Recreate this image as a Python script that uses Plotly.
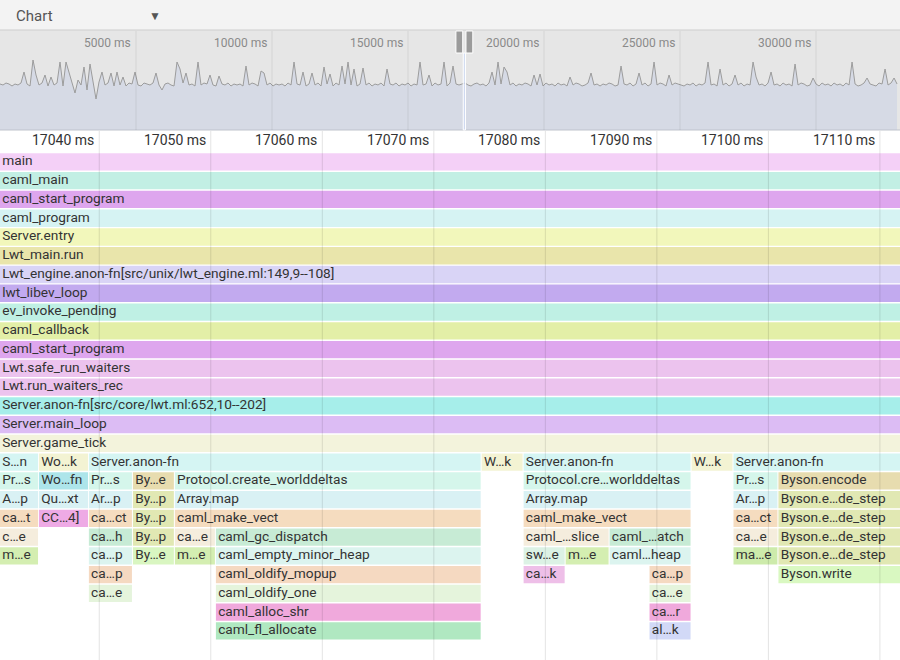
import plotly.graph_objects as go

# ---- overview strip (whole recording, one sample per bucket) ----
overview_step_ms = 110.3
overview_load = [
    46, 45, 47, 46, 44, 46, 45, 47, 58, 46, 44, 70, 55, 45, 47, 55, 44, 53, 45, 47,
    68, 44, 68, 58, 46, 37, 50, 45, 63, 40, 66, 47, 31, 48, 58, 45, 47, 57, 44, 58,
    45, 53, 44, 47, 46, 58, 45, 44, 47, 46, 45, 47, 57, 45, 40, 46, 47, 45, 44, 68,
    61, 47, 57, 45, 46, 44, 68, 45, 47, 46, 55, 45, 44, 54, 46, 45, 47, 44, 46, 45,
    46, 44, 64, 45, 47, 46, 44, 59, 57, 45, 47, 44, 46, 45, 46, 44, 47, 45, 68, 46,
    45, 58, 44, 46, 57, 45, 47, 44, 63, 46, 56, 44, 47, 45, 64, 46, 68, 45, 61, 44,
    46, 62, 45, 47, 44, 46, 45, 47, 44, 61, 46, 45, 47, 44, 46, 45, 47, 44, 46, 45,
    68, 45, 46, 55, 44, 47, 45, 46, 68, 44, 47, 64, 46, 45, 46, 47, 45, 44, 46, 47,
    45, 46, 44, 47, 58, 45, 68, 46, 63, 58, 45, 47, 44, 46, 45, 47, 46, 44, 55, 45,
    56, 44, 47, 45, 46, 44, 47, 45, 46, 44, 53, 45, 47, 46, 44, 45, 47, 57, 45, 46,
    44, 46, 45, 47, 46, 44, 45, 64, 46, 45, 47, 44, 46, 57, 45, 47, 44, 46, 68, 45,
    47, 46, 44, 55, 45, 47, 46, 45, 44, 46, 45, 47, 44, 46, 45, 47, 68, 45, 46, 44,
    61, 45, 47, 44, 46, 55, 45, 47, 44, 46, 45, 68, 53, 45, 46, 44, 47, 58, 45, 46,
    44, 47, 45, 46, 44, 66, 45, 47, 46, 44, 45, 52, 46, 44, 47, 45, 46, 44, 47, 45,
    46, 44, 47, 45, 68, 46, 44, 45, 47, 52, 46, 45, 44, 47, 46, 61, 45, 47, 52, 46,
]
overview_ticks = [5000, 10000, 15000, 20000, 25000, 30000, 35000]
overview_range = [0, 33088]

# ---- zoomed window ----
view_start = 17031.1
view_end = 17111.8
ruler_ticks = [17040, 17050, 17060, 17070, 17080, 17090, 17100, 17110]

# ---- flame chart frames ----
frame_depth = (
    list(range(16))
    + [16] * 7 + [17] * 8 + [18] * 8 + [19] * 8
    + [20] * 9 + [21] * 10 + [22] * 5 + [23] * 3 + [24] * 2 + [25] * 2
)
frame_start = (
    [17000.0] * 16
    + [17030.0, 17034.59, 17039.07, 17074.29, 17078.05, 17093.11, 17096.87]
    + [17030.0, 17034.59, 17039.07, 17043.02, 17046.78, 17078.05, 17096.87, 17100.90]
    + [17030.0, 17034.59, 17039.07, 17043.02, 17046.78, 17078.05, 17096.87, 17100.90]
    + [17030.0, 17034.59, 17039.07, 17043.02, 17046.78, 17078.05, 17096.87, 17100.90]
    + [17030.0, 17039.07, 17043.02, 17046.78, 17050.46, 17078.05, 17085.76, 17096.87, 17100.90]
    + [17030.0, 17039.07, 17043.02, 17046.78, 17050.46, 17078.05, 17081.82, 17085.76, 17096.87, 17100.90]
    + [17039.07, 17050.46, 17078.05, 17089.34, 17100.90]
    + [17039.07, 17050.46, 17089.34]
    + [17050.46, 17089.34]
    + [17050.46, 17089.34]
)
frame_end = (
    [17130.0] * 16
    + [17034.51, 17038.99, 17074.20, 17077.96, 17093.02, 17096.78, 17115.0]
    + [17034.51, 17038.99, 17042.93, 17046.69, 17074.20, 17093.02, 17100.81, 17115.0]
    + [17034.51, 17038.99, 17042.93, 17046.69, 17074.20, 17093.02, 17100.81, 17115.0]
    + [17034.51, 17038.99, 17042.93, 17046.69, 17074.20, 17093.02, 17100.81, 17115.0]
    + [17034.51, 17042.93, 17046.69, 17050.37, 17074.20, 17085.67, 17093.02, 17100.81, 17115.0]
    + [17034.51, 17042.93, 17046.69, 17050.37, 17074.20, 17081.73, 17085.67, 17093.02, 17100.81, 17115.0]
    + [17042.93, 17074.20, 17081.73, 17093.02, 17115.0]
    + [17042.93, 17074.20, 17093.02]
    + [17074.20, 17093.02]
    + [17074.20, 17093.02]
)
frame_label = (
    ["main", "caml_main", "caml_start_program", "caml_program", "Server.entry",
     "Lwt_main.run", "Lwt_engine.anon-fn[src/unix/lwt_engine.ml:149,9--108]",
     "lwt_libev_loop", "ev_invoke_pending", "caml_callback", "caml_start_program",
     "Lwt.safe_run_waiters", "Lwt.run_waiters_rec",
     "Server.anon-fn[src/core/lwt.ml:652,10--202]", "Server.main_loop", "Server.game_tick"]
    + ["S…n", "Wo…k", "Server.anon-fn", "W…k", "Server.anon-fn", "W…k", "Server.anon-fn"]
    + ["Pr…s", "Wo…fn", "Pr…s", "By…e", "Protocol.create_worlddeltas",
       "Protocol.cre…worlddeltas", "Pr…s", "Byson.encode"]
    + ["A…p", "Qu…xt", "Ar…p", "By…p", "Array.map", "Array.map", "Ar…p", "Byson.e…de_step"]
    + ["ca…t", "CC…4]", "ca…ct", "By…p", "caml_make_vect", "caml_make_vect", "ca…ct",
       "Byson.e…de_step"]
    + ["c…e", "ca…h", "By…p", "ca…e", "caml_gc_dispatch", "caml_…slice", "caml_…atch",
       "ca…e", "Byson.e…de_step"]
    + ["m…e", "ca…p", "By…e", "m…e", "caml_empty_minor_heap", "sw…e", "m…e", "caml…heap",
       "ma…e", "Byson.e…de_step"]
    + ["ca…p", "caml_oldify_mopup", "ca…k", "ca…p", "Byson.write"]
    + ["ca…e", "caml_oldify_one", "ca…e"]
    + ["caml_alloc_shr", "ca…r"]
    + ["caml_fl_allocate", "al…k"]
)
frame_color = (
    ["#f4d0f7", "#c2efe4", "#dea6ee", "#d6f3f3", "#f2f7bb", "#e9e5ab", "#d9d4f6",
     "#c2aaef", "#bff0e4", "#e3efa7", "#dea6ee", "#ecc3ee", "#ecc3ee", "#a6eeea",
     "#dcbcf4", "#f3f3dc"]
    + ["#d5f5f3", "#f3f3d3", "#d5f5f3", "#f3f3d3", "#d5f5f3", "#f3f3d3", "#d5f5f3"]
    + ["#d5f6eb", "#ade5ea", "#d5f6eb", "#e7dcaf", "#d5f6eb", "#d5f6eb", "#d5f6eb", "#e7dcaf"]
    + ["#d9f1f4", "#d9f1f4", "#d9f1f4", "#e1e8b3", "#d9f1f4", "#d9f1f4", "#d9f1f4", "#e1e8b3"]
    + ["#f5dcbf", "#eeaae5", "#f5dcbf", "#e1e8b3", "#f5dcbf", "#f5dcbf", "#f5dcbf", "#e1e8b3"]
    + ["#f5eddd", "#c7ebd5", "#e1e8b3", "#f5eddd", "#c7ebd5", "#f5eddd", "#c7ebd5",
       "#f5eddd", "#e1e8b3"]
    + ["#d4eeb1", "#dcf4ef", "#d9f6c1", "#d4eeb1", "#dcf4ef", "#dcf2e5", "#d4eeb1",
       "#dcf4ef", "#cdebab", "#e1e8b3"]
    + ["#f5d9c1", "#f5d9c1", "#eebfe8", "#f5d9c1", "#d9f8c1"]
    + ["#e5f4dc", "#e5f4dc", "#e5f4dc"]
    + ["#f0a9dc", "#f0a9dc"]
    + ["#b0e8c1", "#d2d9f7"]
)

H = 660.0
FONT = "Roboto, 'Noto Sans', sans-serif"


def py(px):
    return 1 - px / H


fig = go.Figure()

# flame chart bars
fig.add_trace(go.Bar(
    orientation="h",
    y=frame_depth,
    base=frame_start,
    x=[e - s for s, e in zip(frame_start, frame_end)],
    width=0.922,
    marker=dict(color=frame_color, line=dict(width=0)),
    xaxis="x", yaxis="y",
    hoverinfo="skip",
))

# labels, drawn from the visible start of each frame
label_x = [max(s, view_start) + 0.2 for s in frame_start]
fig.add_trace(go.Scatter(
    x=label_x, y=frame_depth, text=frame_label,
    mode="text", textposition="middle right",
    textfont=dict(family=FONT, size=13.7, color="#333333"),
    xaxis="x", yaxis="y", cliponaxis=True, hoverinfo="skip",
))

# overview area
fig.add_trace(go.Scatter(
    x=[i * overview_step_ms for i in range(len(overview_load))],
    y=overview_load,
    mode="lines", line=dict(color="#9c9c9c", width=1),
    fill="tozeroy", fillcolor="#d6dae5",
    xaxis="x2", yaxis="y2", hoverinfo="skip",
))

shapes = [
    # header strip
    dict(type="rect", xref="paper", yref="paper", x0=0, x1=1, y0=py(30), y1=1,
         fillcolor="#f3f3f3", line=dict(width=0), layer="below"),
    # overview background
    dict(type="rect", xref="paper", yref="paper", x0=0, x1=1, y0=py(130), y1=py(30),
         fillcolor="#e6e6e6", line=dict(width=0), layer="below"),
    dict(type="line", xref="paper", yref="paper", x0=0, x1=1, y0=py(30), y1=py(30),
         line=dict(color="#cdcdcd", width=1)),
    dict(type="line", xref="paper", yref="paper", x0=0, x1=1, y0=py(130), y1=py(130),
         line=dict(color="#bfc3cc", width=1)),
]
for t in overview_ticks:
    shapes.append(dict(type="line", xref="x2", yref="paper", x0=t, x1=t,
                       y0=py(130), y1=py(31), line=dict(color="rgba(0,0,0,0.07)", width=1)))
# selected window + handles
shapes.append(dict(type="rect", xref="x2", yref="paper", x0=view_start, x1=view_end,
                   y0=py(130), y1=py(53), fillcolor="rgba(200,214,245,0.7)",
                   line=dict(color="white", width=1)))
for x0, x1 in [(view_start - 270, view_start - 20), (view_end + 20, view_end + 270)]:
    shapes.append(dict(type="rect", xref="x2", yref="paper", x0=x0, x1=x1,
                       y0=py(53), y1=py(31), fillcolor="#9b9b9b",
                       line=dict(color="white", width=1)))
# ruler grid over the flame chart
for t in ruler_ticks:
    shapes.append(dict(type="line", xref="x", yref="paper", x0=t, x1=t,
                       y0=0, y1=py(131), line=dict(color="rgba(0,0,0,0.11)", width=1),
                       layer="above"))

annotations = [
    dict(text="Chart", xref="paper", yref="paper", x=14 / 900, y=py(16),
         xanchor="left", yanchor="middle", showarrow=False,
         font=dict(family=FONT, size=15, color="#555555")),
    dict(text="▼", xref="paper", yref="paper", x=155 / 900, y=py(16),
         xanchor="center", yanchor="middle", showarrow=False,
         font=dict(family=FONT, size=12, color="#555555")),
]
for t in overview_ticks:
    annotations.append(dict(text=f"{t} ms", xref="x2", yref="paper", x=t, y=py(43),
                            xanchor="right", yanchor="middle", xshift=-3, showarrow=False,
                            font=dict(family=FONT, size=12, color="#8a8a8a")))
for t in ruler_ticks:
    annotations.append(dict(text=f"{t} ms", xref="x", yref="paper", x=t, y=py(140),
                            xanchor="right", yanchor="middle", xshift=-3, showarrow=False,
                            font=dict(family=FONT, size=14, color="#333333")))

# row geometry: pitch 18.76 px, first row centre at 162 px, axis domain starts at 150 px
row_top = (150 - 161.95) / 18.76
row_bottom = (660 - 161.95) / 18.76

fig.update_layout(
    width=900, height=660,
    margin=dict(l=0, r=0, t=0, b=0),
    paper_bgcolor="white", plot_bgcolor="rgba(0,0,0,0)",
    showlegend=False, hovermode=False, barmode="overlay",
    xaxis=dict(domain=[0, 1], range=[view_start, view_end], visible=False, anchor="y"),
    yaxis=dict(domain=[0, py(150)], range=[row_bottom, row_top], visible=False, anchor="x"),
    xaxis2=dict(domain=[0, 1], range=overview_range, visible=False, anchor="y2"),
    yaxis2=dict(domain=[py(130), py(30)], range=[0, 100], visible=False, anchor="x2"),
    shapes=shapes,
    annotations=annotations,
)

# page body has a default 8px margin; drop it so the chart fills the window
fig.write_html("out.html", config={"displayModeBar": False},
               post_script="document.body.style.margin='0';document.body.style.overflow='hidden';")
